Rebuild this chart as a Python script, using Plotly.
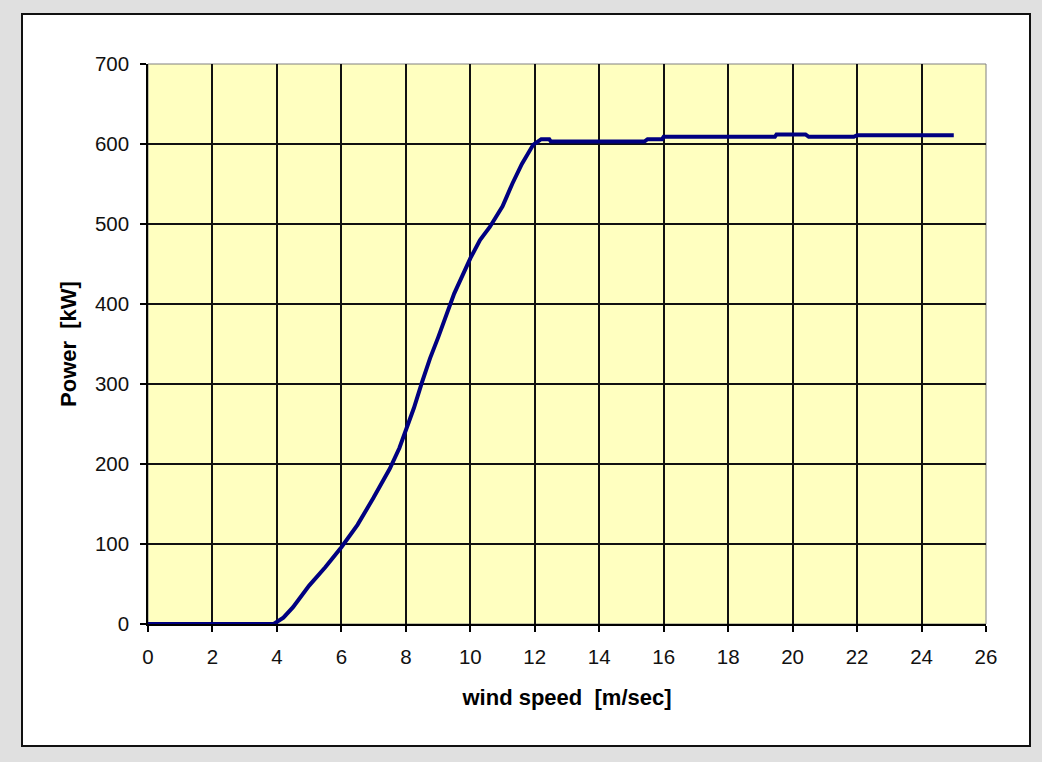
import plotly.graph_objects as go

# power curve
wind_speed = [0, 1, 2, 3, 3.9, 4.2, 4.5, 5, 5.5, 6, 6.5, 7, 7.5, 7.8, 8,
              8.25, 8.5, 8.75, 9, 9.5, 10, 10.3, 10.6, 11, 11.3, 11.6,
              11.95, 12.2, 12.45, 12.5, 15.4, 15.5, 15.95, 16, 19.45, 19.5,
              20.4, 20.5, 21.9, 22, 25]
power_kw = [0, 0, 0, 0, 0, 8, 21, 48, 71, 96, 124, 158, 194, 220, 241,
            270, 302, 332, 358, 413, 457, 480, 496, 522, 550, 575,
            599, 606, 606, 603, 603, 606, 606, 609, 609, 612,
            612, 609, 609, 611, 611]

x_ticks = list(range(0, 27, 2))
y_ticks = list(range(0, 701, 100))

# pixel layout of the plot area
L, R, T, B = 148, 56, 64, 138
W, H = 1042 - L - R, 762 - T - B


def px_x(p):
    return (p - L) / W


def px_y(p):
    return (762 - B - p) / H


fig = go.Figure()
fig.add_trace(go.Scatter(
    x=wind_speed,
    y=power_kw,
    mode="lines",
    line=dict(color="#000080", width=4),
    hoverinfo="skip",
    showlegend=False,
))

# white chart panel with dark border
fig.add_shape(
    type="rect", xref="paper", yref="paper", layer="below",
    x0=px_x(22), x1=px_x(1030), y0=px_y(746), y1=px_y(14),
    fillcolor="white", line=dict(color="#111111", width=2),
)
# yellow plot area with gray frame
fig.add_shape(
    type="rect", xref="paper", yref="paper", layer="below",
    x0=0, x1=1, y0=0, y1=1,
    fillcolor="#FFFFC0", line=dict(color="#808080", width=1),
)

axis_common = dict(
    showline=True,
    linecolor="black",
    linewidth=1.6,
    showgrid=True,
    gridcolor="#111111",
    gridwidth=1.6,
    ticks="outside",
    ticklen=6,
    tickwidth=1.6,
    tickcolor="black",
    zeroline=False,
    tickfont=dict(family="Liberation Sans, Arial", size=20.5, color="#111111"),
)

title_font = dict(family="Liberation Sans, Arial", size=22, color="#000000")

fig.update_xaxes(
    **axis_common,
    range=[0, 26],
    tickvals=x_ticks,
    ticklabelstandoff=8,
    title=dict(text="<b>wind speed  [m/sec]</b>", standoff=22, font=title_font),
)
fig.update_yaxes(
    **axis_common,
    range=[0, 700],
    tickvals=y_ticks,
    ticklabelstandoff=7,
    title=dict(text="<b>Power  [kW]</b>", standoff=12, font=title_font),
)

fig.update_layout(
    width=1042,
    height=762,
    paper_bgcolor="#E0E0E0",
    plot_bgcolor="rgba(0,0,0,0)",
    margin=dict(l=L, r=R, t=T, b=B, pad=0),
)

fig.write_html(
    "out.html",
    config={"displayModeBar": False},
    post_script="document.body.style.margin='0';",
)
